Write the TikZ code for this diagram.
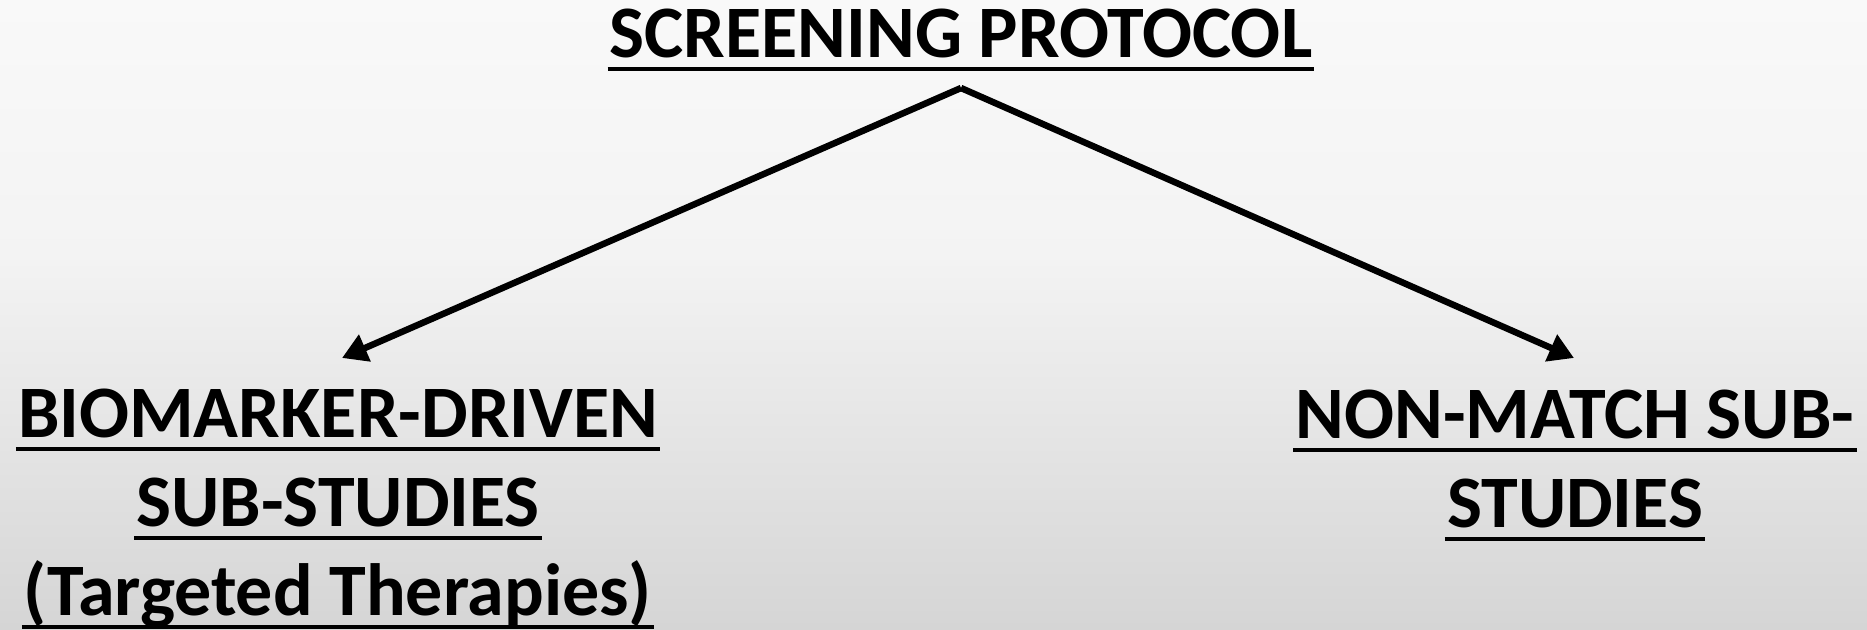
\documentclass[tikz,border=0pt]{standalone}
\usepackage{fontspec}
\setmainfont{Carlito}
\usetikzlibrary{arrows.meta,calc}
\definecolor{bgtop}{HTML}{F9F9F9}
\definecolor{bgmid}{HTML}{F3F3F3}
\definecolor{bgbot}{HTML}{D5D5D5}
\begin{document}
\begin{tikzpicture}[x=1pt,y=-1pt,
  lbl/.style={anchor=base,inner sep=0pt,font=\fontsize{74}{89}\selectfont\bfseries},
  ul/.style={line width=4.5pt},
  arr/.style={line width=6.5pt,-{Triangle[length=25pt,width=28pt]}}]
% background gradient
\useasboundingbox (0,0) rectangle (1867,629);
\fill[top color=bgtop,bottom color=bgmid] (0,0) rectangle (1867,260);
\fill[top color=bgmid,bottom color=bgbot] (0,259) rectangle (1867,629);

% heading
\node[lbl] (title) at (961,57) {SCREENING PROTOCOL};

% left branch
\node[lbl] (bioA) at (338,437) {BIOMARKER-DRIVEN};
\node[lbl] (bioB) at (338,526) {SUB-STUDIES};
\node[lbl] (bioC) at (338,615) {(Targeted Therapies)};

% right branch
\node[lbl] (nonA) at (1575,438) {NON-MATCH SUB-};
\node[lbl] (nonB) at (1575,527) {STUDIES};

% underlines
\foreach \n in {title,bioA,bioB,bioC,nonA,nonB}
  \draw[ul] ($(\n.base west)+(-2,12)$) -- ($(\n.base east)+(2,12)$);

% connectors
\coordinate (apex) at ($(title.base)+(0,31)$);
\coordinate (tipL) at ($(bioA.base)+(4,-79)$);
\coordinate (tipR) at ($(nonA.base)+(-1,-80)$);
\draw[arr] (apex) -- (tipL);
\draw[arr] (apex) -- (tipR);
\end{tikzpicture}
\end{document}
